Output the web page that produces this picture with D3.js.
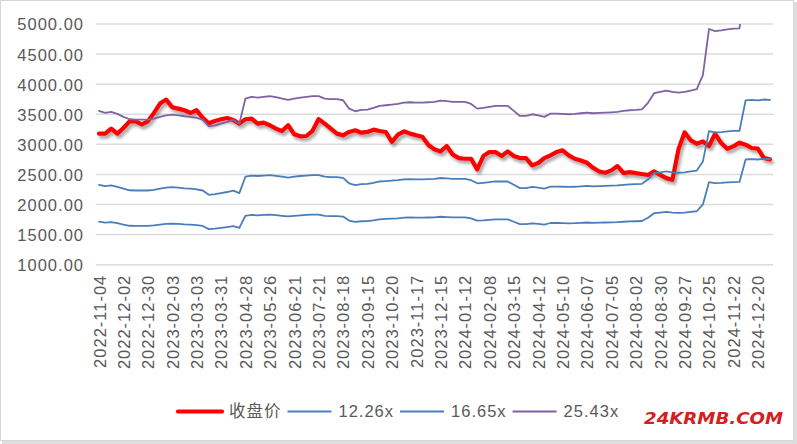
<!DOCTYPE html>
<html>
<head>
<meta charset="utf-8">
<script src="https://cdn.jsdelivr.net/npm/d3@7"></script>
<style>
  html, body { margin: 0; padding: 0; background: #fff; }
  svg { display: block; }
</style>
</head>
<body>
<svg id="chart" width="797" height="444"></svg>
<script>
const dates = ["2022-11-04","2022-11-11","2022-11-18","2022-11-25","2022-12-02","2022-12-09","2022-12-16","2022-12-23","2022-12-30","2023-01-06","2023-01-13","2023-01-20","2023-02-03","2023-02-10","2023-02-17","2023-02-24","2023-03-03","2023-03-10","2023-03-17","2023-03-24","2023-03-31","2023-04-07","2023-04-14","2023-04-21","2023-04-28","2023-05-05","2023-05-12","2023-05-19","2023-05-26","2023-06-02","2023-06-09","2023-06-16","2023-06-21","2023-06-30","2023-07-07","2023-07-14","2023-07-21","2023-07-28","2023-08-04","2023-08-11","2023-08-18","2023-08-25","2023-09-01","2023-09-08","2023-09-15","2023-09-22","2023-09-28","2023-10-13","2023-10-20","2023-10-27","2023-11-03","2023-11-10","2023-11-17","2023-11-24","2023-12-01","2023-12-08","2023-12-15","2023-12-22","2023-12-29","2024-01-05","2024-01-12","2024-01-19","2024-01-26","2024-02-02","2024-02-08","2024-02-23","2024-03-01","2024-03-08","2024-03-15","2024-03-22","2024-03-29","2024-04-03","2024-04-12","2024-04-19","2024-04-26","2024-04-30","2024-05-10","2024-05-17","2024-05-24","2024-05-31","2024-06-07","2024-06-14","2024-06-21","2024-06-28","2024-07-05","2024-07-12","2024-07-19","2024-07-26","2024-08-02","2024-08-09","2024-08-16","2024-08-23","2024-08-30","2024-09-06","2024-09-13","2024-09-20","2024-09-27","2024-09-30","2024-10-11","2024-10-18","2024-10-25","2024-11-01","2024-11-08","2024-11-15","2024-11-22","2024-11-29","2024-12-06","2024-12-13","2024-12-20","2024-12-27","2024-12-31"];

const tickLabels = ["2022-11-04","2022-12-02","2022-12-30","2023-02-03","2023-03-03","2023-03-31","2023-04-28","2023-05-26","2023-06-21","2023-07-21","2023-08-18","2023-09-15","2023-10-20","2023-11-17","2023-12-15","2024-01-12","2024-02-08","2024-03-15","2024-04-12","2024-05-10","2024-06-07","2024-07-05","2024-08-02","2024-08-30","2024-09-27","2024-10-25","2024-11-22","2024-12-20"];

const yTicks = [1000,1500,2000,2500,3000,3500,4000,4500,5000];

const closePrice = [3178,3178,3261,3178,3272,3383,3383,3333,3383,3522,
 3678,3744,3617,3594,3567,3522,3567,3439,3350,3389,
 3417,3439,3406,3344,3417,3428,3344,3361,3317,3261,
 3222,3317,3167,3133,3139,3225,3420,3344,3261,3178,
 3150,3206,3233,3194,3206,3244,3222,3206,3039,3161,
 3217,3178,3150,3125,2990,2917,2883,2972,2828,2772,
 2761,2761,2583,2806,2872,2872,2806,2883,2806,2772,
 2772,2650,2690,2772,2817,2872,2900,2817,2761,2733,
 2694,2611,2550,2528,2567,2639,2522,2539,2522,2508,
 2490,2550,2494,2439,2411,2920,3200,3067,3011,3050,
 2972,3178,3022,2928,2967,3028,2994,2939,2928,2772,
 2750];

const pe1226 = [1714,1698,1706,1690,1666,1647,1644,1644,1644,1653,
 1666,1679,1684,1679,1671,1666,1658,1644,1591,1599,
 1612,1626,1642,1612,1813,1827,1821,1827,1832,1824,
 1813,1803,1813,1821,1827,1832,1832,1813,1808,1808,
 1800,1733,1711,1722,1725,1738,1754,1760,1765,1770,
 1781,1784,1781,1781,1784,1787,1797,1792,1787,1787,
 1787,1770,1733,1738,1746,1754,1754,1754,1714,1674,
 1674,1687,1679,1666,1693,1693,1690,1687,1690,1696,
 1701,1696,1698,1701,1703,1706,1714,1720,1722,1726,
 1779,1856,1867,1877,1867,1861,1867,1877,1888,2001,
 2371,2354,2359,2368,2373,2376,2748,2753,2748,2758,
 2753];

const pe1665 = [2328,2306,2317,2295,2263,2237,2233,2233,2233,2244,
 2263,2280,2288,2280,2270,2263,2252,2233,2161,2172,
 2189,2208,2230,2189,2462,2481,2474,2481,2488,2477,
 2462,2448,2462,2474,2481,2488,2488,2462,2455,2455,
 2444,2353,2324,2339,2343,2361,2383,2390,2397,2404,
 2419,2422,2419,2419,2422,2426,2441,2434,2426,2426,
 2426,2404,2353,2361,2371,2383,2383,2383,2328,2273,
 2273,2292,2280,2263,2299,2299,2295,2292,2295,2303,
 2310,2303,2306,2310,2313,2317,2328,2335,2339,2344,
 2416,2521,2535,2550,2535,2528,2535,2550,2565,2717,
 3219,3197,3204,3215,3223,3226,3732,3738,3732,3745,
 3738];

const pe2543 = [3556,3522,3539,3506,3456,3417,3411,3411,3411,3428,
 3456,3483,3494,3483,3467,3456,3439,3410,3300,3317,
 3344,3372,3406,3344,3761,3789,3778,3789,3800,3783,
 3761,3739,3761,3778,3789,3800,3800,3761,3750,3750,
 3733,3594,3550,3572,3578,3606,3639,3650,3661,3672,
 3694,3700,3694,3695,3700,3706,3728,3717,3706,3706,
 3706,3672,3594,3606,3622,3639,3639,3639,3556,3472,
 3472,3500,3483,3456,3511,3511,3506,3500,3506,3517,
 3528,3517,3522,3528,3533,3539,3556,3567,3572,3580,
 3690,3850,3872,3894,3872,3861,3872,3894,3917,4150,
 4917,4883,4894,4911,4922,4928,5700,5710,5700,5720,
 5710];

const seriesNames = ["收盘价","12.26x","16.65x","25.43x"];
const seriesColors = ["#FF0000","#4A7EBB","#4A7EBB","#7E62A3"];
const seriesWidths = [4.2, 1.8, 1.8, 1.8];
const seriesValues = [closePrice, pe1226, pe1665, pe2543];

const svg = d3.select("#chart");
const W = 797, H = 444;
const plot = {left: 96, right: 773, top: 24, bottom: 264.7};
const font = "'Liberation Sans', Arial, Helvetica, sans-serif";
const textColor = "#595959";

// frame
svg.append("rect").attr("x",0).attr("y",0).attr("width",W).attr("height",H).attr("fill","#fff");
svg.append("rect").attr("x",0.5).attr("y",0.5).attr("width",793).attr("height",440).attr("fill","none").attr("stroke","#d6d6d6");
svg.append("rect").attr("x",794).attr("y",2).attr("width",3).attr("height",442).attr("fill","#dedede");
svg.append("rect").attr("x",2).attr("y",441).attr("width",795).attr("height",3).attr("fill","#dedede");

const defs = svg.append("defs");
const f = defs.append("filter").attr("id","shadow").attr("x","-5%").attr("y","-10%").attr("width","115%").attr("height","130%");
f.append("feDropShadow").attr("dx",2).attr("dy",3).attr("stdDeviation",1.8).attr("flood-color","#000").attr("flood-opacity",0.35);
defs.append("clipPath").attr("id","clip").append("rect")
  .attr("x", plot.left - 5).attr("y", plot.top).attr("width", plot.right - plot.left + 10).attr("height", plot.bottom - plot.top + 10);

const x = d3.scalePoint().domain(dates).range([99.05, 770]);
const y = d3.scaleLinear().domain([1000, 5000]).range([plot.bottom, plot.top]);

// gridlines
svg.append("g").selectAll("line").data(yTicks).join("line")
  .attr("x1", plot.left).attr("x2", plot.right)
  .attr("y1", d => y(d)).attr("y2", d => y(d))
  .attr("stroke", "#dcdcdc").attr("stroke-width", 1.5);

// y axis labels
const yAxis = d3.axisLeft(y).tickValues(yTicks).tickFormat(d3.format(".2f")).tickSize(0).tickPadding(0);
const gy = svg.append("g").attr("transform", "translate(84,0)").call(yAxis);
gy.select(".domain").remove();
gy.selectAll("text").attr("font-family", font).attr("font-size", 16.5)
  .attr("fill", textColor).attr("letter-spacing", "1px").attr("dy", "0.36em");

// x axis labels
const xAxis = d3.axisBottom(x).tickValues(tickLabels).tickSize(0).tickPadding(0);
const gx = svg.append("g").attr("transform", `translate(0,${plot.bottom})`).call(xAxis);
gx.select(".domain").remove();
gx.selectAll("text")
  .attr("font-family", font).attr("font-size", 16.5).attr("fill", textColor)
  .attr("letter-spacing", "1px")
  .attr("text-anchor", "end")
  .attr("transform", "rotate(-90)")
  .attr("x", -10).attr("y", 0).attr("dy", "0.36em");

// lines
const lineGen = vals => d3.line().x((d, i) => x(dates[i])).y(d => y(d))(vals);
const lines = svg.append("g").attr("clip-path", "url(#clip)");
seriesValues.forEach((vals, k) => {
  lines.append("path")
    .attr("d", lineGen(vals))
    .attr("fill", "none")
    .attr("stroke", seriesColors[k])
    .attr("stroke-width", seriesWidths[k])
    .attr("stroke-linejoin", "round")
    .attr("stroke-linecap", "round")
    .attr("filter", k === 0 ? "url(#shadow)" : null);
});

// legend
const legend = svg.append("g");
let lx = 178;
const ly = 411.5;
seriesNames.forEach((name, k) => {
  legend.append("line").attr("x1", lx).attr("x2", lx + 44).attr("y1", ly).attr("y2", ly)
    .attr("stroke", seriesColors[k]).attr("stroke-width", seriesWidths[k])
    .attr("stroke-linecap", k === 0 ? "round" : "butt");
  const t = legend.append("text").attr("x", lx + 51).attr("y", ly).attr("dy", "0.36em")
    .attr("font-family", k === 0 ? "'Noto Sans CJK SC', sans-serif" : font)
    .attr("font-size", 16.5).attr("letter-spacing", "1px").attr("fill", textColor).text(name);
  const w = t.node().getComputedTextLength();
  lx = lx + 51 + w + 6;
});

// watermark
svg.append("text").attr("x", 644).attr("y", 424)
  .attr("font-family", "'DejaVu Sans', sans-serif").attr("font-weight", "bold").attr("font-style", "italic")
  .attr("font-size", 16).attr("fill", "#d42020")
  .attr("textLength", 139).attr("lengthAdjust", "spacingAndGlyphs")
  .text("24KRMB.COM");
</script>
</body>
</html>
